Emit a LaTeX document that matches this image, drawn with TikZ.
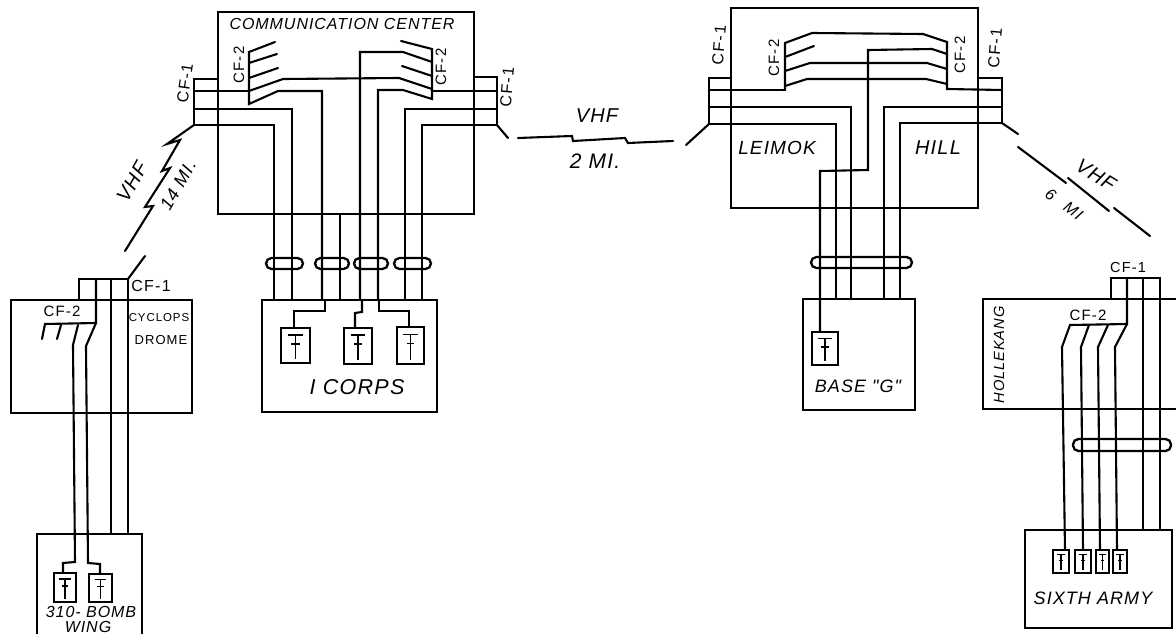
\documentclass[tikz,border=0pt]{standalone}
\usepackage{fontspec}
\setmainfont{Liberation Sans}
\newfontfamily\handfont[LetterSpace=8]{Liberation Sans}
\newfontfamily\handit[LetterSpace=6]{Liberation Sans}
\usetikzlibrary{calc}
\tikzset{
  wire/.style={draw=black,line width=2.1pt,line join=miter,line cap=round},
  boxn/.style={draw=black,line width=2.2pt,rectangle,inner sep=0pt,outer sep=0pt},
  pill/.style={draw=black,line width=2.3pt,rectangle,rounded corners=5.5pt,inner sep=0pt,outer sep=0pt},
  phonebox/.style={draw=black,line width=1.8pt,rectangle,inner sep=0pt,outer sep=0pt},
  glyph/.style={draw=black,line width=1.6pt},
  lab/.style={inner sep=0pt,font=\handit\itshape\fontsize{#1}{#1}\selectfont},
  cf/.style={inner sep=0pt,font=\handfont\fontsize{#1}{#1}\selectfont},
}
\newcommand{\bx}[6][boxn]{\node[#1,minimum width={(#5-#3)*1pt},minimum height={(#6-#4)*1pt}] (#2) at ({(#3+#5)/2},{(#4+#6)/2}) {};}
\newcommand{\ph}[5]{%
  \bx[phonebox]{#1}{#2}{#3}{#4}{#5}%
  \pgfmathsetmacro{\hh}{#5-#3}\pgfmathsetmacro{\ww}{#4-#2}%
  \draw[glyph] ($(#1.north)+(-.26*\ww,.2*\hh)$) -- ($(#1.north)+(.26*\ww,.2*\hh)$);
  \draw[glyph] ($(#1.north)+(-.14*\ww,.45*\hh)$) -- ($(#1.north)+(.14*\ww,.45*\hh)$);
  \draw[glyph] ($(#1.north)+(0,.2*\hh)$) -- ($(#1.north)+(0,.88*\hh)$);
}
\begin{document}
\begin{tikzpicture}[x=1pt,y=-1pt]
\clip (0,0) rectangle (1176,634);
\fill[white] (0,0) rectangle (1176,634);
% ---------- boxes
\bx{comm}{218}{12}{474}{214}
\bx{corps}{262}{300}{437}{412}
\bx{leimok}{731}{8}{978}{208}
\bx{base}{803}{299}{915}{410}
\bx{cyclops}{11}{300}{192}{413}
\bx{wing}{37}{534}{142}{660}
\bx{holl}{983}{299}{1220}{409}
\bx{army}{1025}{530}{1172}{628}
% ---------- pills
\bx[pill]{pa}{266}{258}{303}{269}
\bx[pill]{pb}{315}{258}{349}{269}
\bx[pill]{pc}{354}{258}{388}{269}
\bx[pill]{pd}{394}{258}{431}{269}
\bx[pill]{pe}{811}{257}{912}{268}
\bx[pill]{pf}{1073}{439}{1171}{451}
% ---------- phones
\ph{ca}{281}{328}{310}{363}
\ph{cb}{344}{328}{372}{364}
\ph{cc}{397}{327}{424}{364}
\ph{ba}{812}{332}{838}{365}
\ph{wa}{54}{573}{76}{602}
\ph{wb}{89}{574}{112}{602}
\ph{aa}{1053}{550}{1069}{573}
\ph{ab}{1075}{550}{1091}{573}
\ph{ac}{1096}{550}{1109}{573}
\ph{ad}{1113}{550}{1127}{573}
% ---------- named free ends
\coordinate (la) at (194,125);
\coordinate (lb) at (497,125);
\coordinate (ma) at (709,124);
\coordinate (mb) at (1002,123);
\coordinate (cy) at (128,279);
% ---------- communication center
\draw[wire] (comm.west |- 0,79) -- (194,79) -- (la) -- (274,125) -- (274,125 |- corps.north);
\draw[wire] (194,91) -- (249,91);
\draw[wire] (194,109) -- (292,109) -- (292,109 |- corps.north);
\draw[wire] (275,42) -- (249,52) -- (249,104) -- (278,91) -- (322,91) -- (322,91 |- corps.north);
\draw[wire] (277,54) -- (249,63);
\draw[wire] (278,68) -- (249,78);
\draw[wire] (249,91) -- (283,79) -- (399,78) -- (432,89);
\draw[wire] (340,215) -- (340,215 |- corps.north);
\draw[wire] (401,41) -- (432,49) -- (432,99) -- (403,90) -- (378,90) -- (378,90 |- corps.north);
\draw[wire] (432,62) -- (403,52) -- (360,52) -- (360,52 |- corps.north);
\draw[wire] (402,66) -- (432,76);
\draw[wire] (432,91) -- (497,91);
\draw[wire] (comm.east |- 0,77) -- (497,77) -- (lb) -- (422,125) -- (422,125 |- corps.north);
\draw[wire] (497,109) -- (405,109) -- (405,109 |- corps.north);
% ---------- I corps drops
\draw[wire] (325,300) -- (325,311) -- (294,311) -- (294,311 |- ca.north);
\draw[wire] (362,300) -- (362,312) -- (355,313) -- (355,313 |- cb.north);
\draw[wire] (379,300) -- (379,311) -- (409,311) -- (409,311 |- cc.north);
% ---------- Leimok Hill
\draw[wire] (leimok.west |- 0,78) -- (709,78) -- (ma) -- (836,124) -- (836,124 |- base.north);
\draw[wire] (709,90) -- (785,90);
\draw[wire] (709,107) -- (851,107) -- (851,107 |- base.north);
\draw[wire] (785,90) -- (785,43) -- (812,33) -- (923,34) -- (947,42) -- (947,89) -- (1002,90);
\draw[wire] (785,57) -- (814,46);
\draw[wire] (785,71) -- (810,63) -- (927,63) -- (947,69);
\draw[wire] (785,86) -- (807,79) -- (926,79) -- (947,84);
\draw[wire] (947,54) -- (932,49) -- (868,50) -- (868,170) -- (820,171) -- (820,171 |- ba.north);
\draw[wire] (leimok.east |- 0,78) -- (1002,78) -- (mb) -- (900,123) -- (900,123 |- base.north);
\draw[wire] (1002,107) -- (884,107) -- (884,107 |- base.north);
% ---------- radio links
\draw[wire] (la) -- (167,144) -- (180,140) -- (162,171) -- (170,168) -- (145,207) -- (153,206) -- (125,251);
\draw[wire] (cy) -- (145,256);
\draw[wire] (lb) -- (508,138);
\draw[wire] (518,138) -- (572,136) -- (573,141) -- (625,138) -- (628,143) -- (673,141);
\draw[wire] (ma) -- (686,145);
\draw[wire] (mb) -- (1018,134);
\draw[wire] (1018,147) -- (1066,183);
\draw[wire] (1068,178) -- (1109,211);
\draw[wire] (1114,208) -- (1150,236);
% ---------- Cyclops drome
\draw[wire] (79,79 |- cyclops.north) -- (79,279) -- (cy) -- (cy |- wing.north);
\draw[wire] (96,279) -- (96,323) -- (45,324) -- (42,339);
\draw[wire] (61,325) -- (57,339);
\draw[wire] (111,279) -- (111,279 |- wing.north);
\draw[wire] (78,325) -- (73,345) -- (75,562) -- (63,563) -- (63,563 |- wa.north);
\draw[wire] (96,323) -- (86,346) -- (88,563) -- (100,564) -- (100,564 |- wb.north);
% ---------- Hollekang
\draw[wire] (1111,0 |- holl.north) -- (1111,278) -- (1160,278) -- (1160,278 |- army.north);
\draw[wire] (1143,278) -- (1143,278 |- army.north);
\draw[wire] (1127,278) -- (1127,324) -- (1070,325) -- (1062,347) -- (1065,348 |- aa.north);
\draw[wire] (1089,325) -- (1081,347) -- (1083,348 |- ab.north);
\draw[wire] (1108,325) -- (1098,347) -- (1100,348 |- ac.north);
\draw[wire] (1127,324) -- (1115,347) -- (1117,348 |- ad.north);
% ---------- labels
\node[lab=16] (tcomm) at (342,24) {COMMUNICATION CENTER};
\node[cf=16,rotate=82] (t1) at (185,83) {CF-1};
\node[cf=15,rotate=90] (t2) at (239,65) {CF-2};
\node[cf=15,rotate=90] (t3) at (441,67) {CF-2};
\node[cf=16,rotate=85] (t4) at (507,87) {CF-1};
\node[lab=21.5] (tcorps) at (357,387) {I CORPS};
\node[lab=20,rotate=60] (tv1) at (132,182) {VHF};
\node[lab=18,rotate=60] (tm1) at (178,185) {14 MI.};
\node[lab=20] (tv2) at (597,116) {VHF};
\node[lab=21] (tm2) at (595,161) {2 MI.};
\node[cf=16,rotate=85] (t5) at (719,45) {CF-1};
\node[cf=15,rotate=90] (t6) at (774,58) {CF-2};
\node[cf=15,rotate=90] (t7) at (960,55) {CF-2};
\node[cf=16,rotate=85] (t8) at (995,48) {CF-1};
\node[lab=19] (tl) at (777,148) {LEIMOK};
\node[lab=20] (th) at (938,148) {HILL};
\node[lab=18] (tb) at (858,386) {BASE "G"};
\node[lab=20,rotate=-32] (tv3) at (1096,175) {VHF};
\node[lab=16,rotate=-36] (tm3) at (1064,204) {6\hspace{14pt}MI};
\node[cf=16] (t9) at (151,286) {CF-1};
\node[cf=15] (t10) at (62,311) {CF-2};
\node[cf=11.5] (tcy) at (159,318) {CYCLOPS};
\node[cf=13] (tdr) at (161,340) {DROME};
\node[lab=16] (tw1) at (91,612) {310- BOMB};
\node[lab=16] (tw2) at (88,627) {WING};
\node[cf=14.5] (t11) at (1128,268) {CF-1};
\node[cf=15] (t12) at (1088,315) {CF-2};
\node[lab=14.7,rotate=90] (tho) at (999,355) {HOLLEKANG};
\node[lab=18] (tsa) at (1093,598) {SIXTH ARMY};
\end{tikzpicture}
\end{document}
